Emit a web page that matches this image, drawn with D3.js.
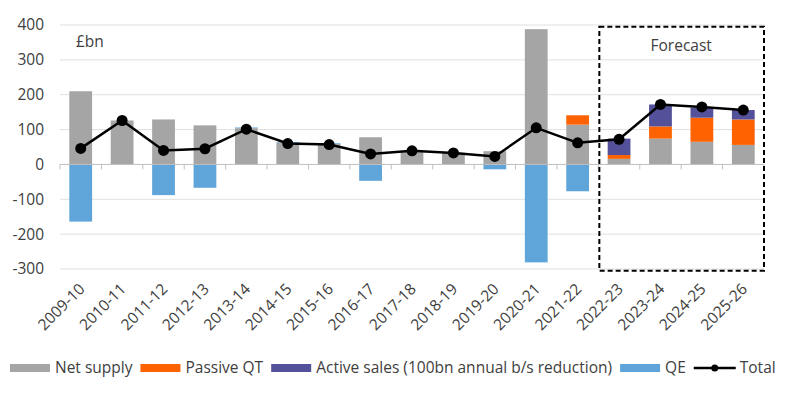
<!DOCTYPE html>
<html>
<head>
<meta charset="utf-8">
<script src="https://cdn.jsdelivr.net/npm/d3@7"></script>
<style>
  body { margin: 0; background: #fff; }
  svg text { font-family: "Open Sans", sans-serif; fill: #404040; }
</style>
</head>
<body>
<div id="chart"></div>
<script>
// Dữ liệu (£bn)
const categories = ["2009-10", "2010-11", "2011-12", "2012-13", "2013-14", "2014-15", "2015-16", "2016-17",
    "2017-18", "2018-19", "2019-20", "2020-21", "2021-22", "2022-23", "2023-24", "2024-25", "2025-26"];
const netSupply   = [210, 126, 129, 112, 104, 62, 59, 78, 38, 33, 38, 388, 114, 16, 74, 65, 56];
const passiveQT   = [0, 0, 0, 0, 0, 0, 0, 0, 0, 0, 0, 0, 27, 11, 35, 69, 73];
const activeSales = [0, 0, 0, 0, 0, 0, 0, 0, 0, 0, 0, 0, 0, 47, 63, 29, 27];
const qe          = [-164, 0, -88, -67, 2, 2, 2, -47, 1, 1, -14, -281, -77, 0, 0, 0, 0];
const total       = [46, 126, 40, 45, 101, 60, 57, 30, 39, 33, 23, 105, 62, 72, 172, 165, 156];
const yTicks = [-300, -200, -100, 0, 100, 200, 300, 400];
const forecastFrom = "2022-23";

const series = [
    { key: "net", label: "Net supply", color: "#a5a5a5", values: netSupply },
    { key: "qt", label: "Passive QT", color: "#ff6200", values: passiveQT },
    { key: "active", label: "Active sales (100bn annual b/s reduction)", color: "#525199", values: activeSales },
    { key: "qe", label: "QE", color: "#5fa5da", values: qe }
];

const W = 800, H = 398;
const svg = d3.select("#chart").append("svg")
    .attr("width", W).attr("height", H);

// Scales
const x = d3.scaleBand()
    .domain(categories)
    .range([60, 764])
    .paddingInner(0.45)
    .paddingOuter(0.225);

const y = d3.scaleLinear()
    .domain([-300, 400])
    .range([269, 25]);

// Gridlines
svg.append("g")
    .selectAll("line")
    .data(yTicks.filter(d => d !== 0))
    .join("line")
    .attr("x1", 60).attr("x2", 764)
    .attr("y1", d => y(d)).attr("y2", d => y(d))
    .attr("stroke", "#e0e0e0")
    .attr("stroke-width", 1);

// Y labels
svg.append("g")
    .selectAll("text")
    .data(yTicks)
    .join("text")
    .attr("x", 44)
    .attr("y", d => y(d))
    .attr("dy", "0.35em")
    .attr("text-anchor", "end")
    .style("font-size", "15.5px")
    .text(d => d);

// Stacked bars
const table = categories.map((c, i) => {
    const row = { cat: c };
    series.forEach(s => row[s.key] = s.values[i]);
    return row;
});
const stacked = d3.stack()
    .keys(series.map(s => s.key))
    .offset(d3.stackOffsetDiverging)(table);

svg.append("g")
    .selectAll("g")
    .data(stacked)
    .join("g")
    .attr("fill", (d, i) => series[i].color)
    .selectAll("rect")
    .data(d => d.filter(p => p[1] !== p[0]))
    .join("rect")
    .attr("x", d => x(d.data.cat))
    .attr("width", x.bandwidth())
    .attr("y", d => y(Math.max(d[0], d[1])))
    .attr("height", d => Math.abs(y(d[0]) - y(d[1])));

// Zero axis with ticks between categories
const step = x.step();
const zero = svg.append("g");
zero.append("line")
    .attr("x1", 60).attr("x2", 764)
    .attr("y1", y(0)).attr("y2", y(0))
    .attr("stroke", "#bfbfbf").attr("stroke-width", 1);
zero.selectAll("line.tick")
    .data(d3.range(categories.length + 1))
    .join("line")
    .attr("class", "tick")
    .attr("x1", i => 60 + i * step).attr("x2", i => 60 + i * step)
    .attr("y1", y(0)).attr("y2", y(0) + 5)
    .attr("stroke", "#bfbfbf");

// X labels
svg.append("g")
    .selectAll("text")
    .data(categories)
    .join("text")
    .attr("transform", d => `translate(${x(d) + x.bandwidth() / 2 + 5},${290}) rotate(-45)`)
    .attr("text-anchor", "end")
    .style("font-size", "15.5px")
    .text(d => d);

// Total line
const cx = d => x(d) + x.bandwidth() / 2;
const line = d3.line()
    .x((d, i) => cx(categories[i]))
    .y(d => y(d));
svg.append("path")
    .datum(total)
    .attr("d", line)
    .attr("fill", "none")
    .attr("stroke", "#000")
    .attr("stroke-width", 2.5);
svg.append("g")
    .selectAll("circle")
    .data(total)
    .join("circle")
    .attr("cx", (d, i) => cx(categories[i]))
    .attr("cy", d => y(d))
    .attr("r", 5.5)
    .attr("fill", "#000");

// Forecast box
const fx0 = 60 + categories.indexOf(forecastFrom) * step;
svg.append("rect")
    .attr("x", fx0 + 1)
    .attr("y", y(395))
    .attr("width", 764 - fx0 - 1)
    .attr("height", y(-305) - y(395))
    .attr("fill", "none")
    .attr("stroke", "#000")
    .attr("stroke-width", 2)
    .attr("stroke-dasharray", "5,3");
svg.append("text")
    .attr("x", (fx0 + 764) / 2)
    .attr("y", 51)
    .attr("text-anchor", "middle")
    .style("font-size", "15.5px")
    .text("Forecast");

// Unit label
svg.append("text")
    .attr("x", 76).attr("y", 47)
    .style("font-size", "15.5px")
    .text("£bn");

// Legend
const legend = svg.append("g");
let lx = 10;
const ly = 368;
series.forEach(s => {
    legend.append("rect")
        .attr("x", lx).attr("y", ly - 4)
        .attr("width", 40).attr("height", 8)
        .attr("fill", s.color);
    const t = legend.append("text")
        .attr("x", lx + 45).attr("y", ly)
        .attr("dy", "0.35em")
        .style("font-size", "15.5px")
        .text(s.label);
    lx += 45 + t.node().getComputedTextLength() + 8;
});
legend.append("line")
    .attr("x1", lx).attr("x2", lx + 42)
    .attr("y1", ly).attr("y2", ly)
    .attr("stroke", "#000").attr("stroke-width", 2.5);
legend.append("circle")
    .attr("cx", lx + 21).attr("cy", ly).attr("r", 3.5)
    .attr("fill", "#000");
legend.append("text")
    .attr("x", lx + 46).attr("y", ly)
    .attr("dy", "0.35em")
    .style("font-size", "15.5px")
    .text("Total");
</script>
</body>
</html>
